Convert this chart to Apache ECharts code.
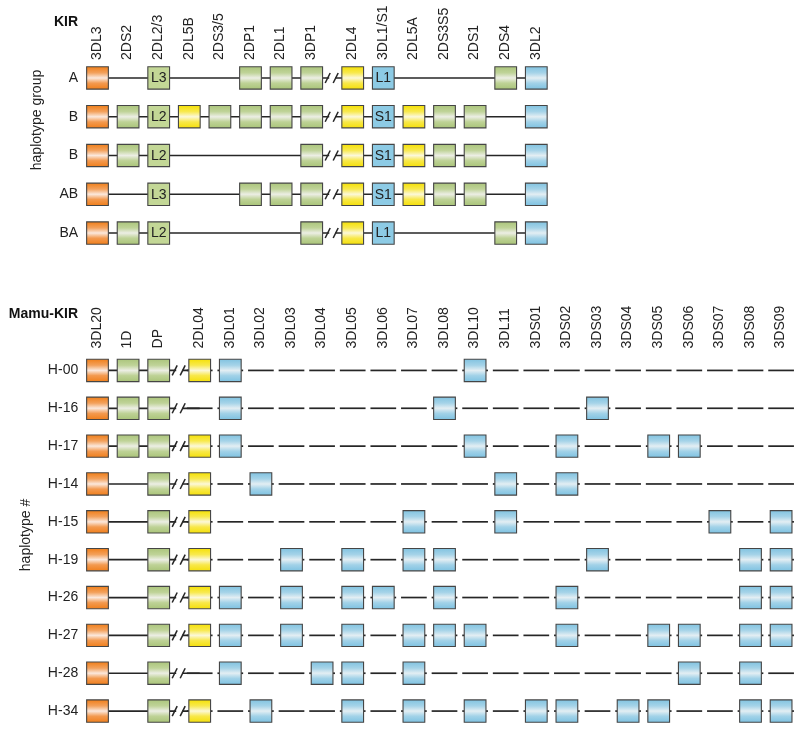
<!DOCTYPE html>
<html><head><meta charset="utf-8">
<script src="https://cdn.jsdelivr.net/npm/echarts@6/dist/echarts.min.js"></script>
<style>html,body{margin:0;padding:0;background:#fff}#c{width:800px;height:730px}</style>
</head><body><div id="c"></div>
<script>
// ---------- data ----------
const kirGenes = ['3DL3','2DS2','2DL2/3','2DL5B','2DS3/5','2DP1','2DL1','3DP1','2DL4','3DL1/S1','2DL5A','2DS3S5','2DS1','2DS4','3DL2'];
const kirGeneColors = ['orange','green','green','yellow','green','green','green','green','yellow','blue','yellow','green','green','green','blue'];
const kirBreakBefore = 8; // break mark between 3DP1 and 2DL4
const kirHaplotypes = ['A','B','B','AB','BA'];
// 1 = gene present, 0 = absent, text = present with allele label
const kirRowA  = [1,0,'L3',0,0,1,1,1,1,'L1',0,0,0,1,1];
const kirRowB1 = [1,1,'L2',1,1,1,1,1,1,'S1',1,1,1,0,1];
const kirRowB2 = [1,1,'L2',0,0,0,0,1,1,'S1',1,1,1,0,1];
const kirRowAB = [1,0,'L3',0,0,1,1,1,1,'S1',1,1,1,0,1];
const kirRowBA = [1,1,'L2',0,0,0,0,1,1,'L1',0,0,0,1,1];

const mamuGenes = ['3DL20','1D','DP','2DL04','3DL01','3DL02','3DL03','3DL04','3DL05','3DL06','3DL07','3DL08','3DL10','3DL11','3DS01','3DS02','3DS03','3DS04','3DS05','3DS06','3DS07','3DS08','3DS09'];
const mamuGeneColors = ['orange','green','green','yellow','blue','blue','blue','blue','blue','blue','blue','blue','blue','blue','blue','blue','blue','blue','blue','blue','blue','blue','blue'];
const mamuBreakBefore = 3; // break mark between DP and 2DL04
const mamuHaplotypes = ['H-00','H-16','H-17','H-14','H-15','H-19','H-26','H-27','H-28','H-34'];
const mamuH00 = ['3DL20','1D','DP','2DL04','3DL01','3DL10'];
const mamuH16 = ['3DL20','1D','DP','3DL01','3DL08','3DS03'];
const mamuH17 = ['3DL20','1D','DP','2DL04','3DL01','3DL10','3DS02','3DS05','3DS06'];
const mamuH14 = ['3DL20','DP','2DL04','3DL02','3DL11','3DS02'];
const mamuH15 = ['3DL20','DP','2DL04','3DL07','3DL11','3DS07','3DS09'];
const mamuH19 = ['3DL20','DP','2DL04','3DL03','3DL05','3DL07','3DL08','3DS03','3DS08','3DS09'];
const mamuH26 = ['3DL20','DP','2DL04','3DL01','3DL03','3DL05','3DL06','3DL08','3DS02','3DS08','3DS09'];
const mamuH27 = ['3DL20','DP','2DL04','3DL01','3DL03','3DL05','3DL07','3DL08','3DL10','3DS02','3DS05','3DS06','3DS08','3DS09'];
const mamuH28 = ['3DL20','DP','3DL01','3DL04','3DL05','3DL07','3DS06','3DS08'];
const mamuH34 = ['3DL20','DP','2DL04','3DL02','3DL05','3DL07','3DL10','3DS01','3DS02','3DS04','3DS05','3DS08','3DS09'];

// ---------- build ----------
const kirRows = [kirRowA, kirRowB1, kirRowB2, kirRowAB, kirRowBA];
const mamuRowsList = [mamuH00, mamuH16, mamuH17, mamuH14, mamuH15, mamuH19, mamuH26, mamuH27, mamuH28, mamuH34];
const mamuRows = mamuRowsList.map(list => mamuGenes.map(g => list.indexOf(g) >= 0 ? 1 : 0));

const BREAK_GAP = 0.34;
const FONT = '"Liberation Sans", Arial, Helvetica, sans-serif';
const INK = '#262626';
const PALETTE = {
  orange: ['#f07c14', '#f3a15c', '#fbe8dc', '#f39a50', '#f07d18'],
  green:  ['#aac47a', '#bfd398', '#eceee4', '#bed296', '#a8c377'],
  yellow: ['#f5e000', '#f8e94e', '#fcf8d8', '#f8e84a', '#f4df06'],
  blue:   ['#7fc2e0', '#a5d3e8', '#e3eef3', '#a2d2e8', '#7cc1e1']
};
const FLAT = { green: '#c3d796', blue: '#8dcbe5', orange: '#f2842a', yellow: '#f6e21c' };

function posOf(i, brk) { return i + (i >= brk ? BREAK_GAP : 0); }
function fillFor(key, flat) {
  if (flat) return FLAT[key];
  const c = PALETTE[key];
  return new echarts.graphic.LinearGradient(0, 0, 0, 1, [
    { offset: 0, color: c[0] }, { offset: 0.28, color: c[1] }, { offset: 0.5, color: c[2] },
    { offset: 0.72, color: c[3] }, { offset: 1, color: c[4] }
  ]);
}

function breakMark(bx, cy) {
  return [
    { type: 'rect', shape: { x: bx - 3, y: cy - 3, width: 6, height: 6 }, style: { fill: '#fff' } },
    { type: 'line', shape: { x1: bx - 7, y1: cy + 5, x2: bx - 2, y2: cy - 5 }, style: { stroke: INK, lineWidth: 1.5 } },
    { type: 'line', shape: { x1: bx + 1, y1: cy + 5, x2: bx + 6, y2: cy - 5 }, style: { stroke: INK, lineWidth: 1.5 } }
  ];
}

function makeRowRenderer(rows, colors, brk, dashed) {
  return function (params, api) {
    const r = api.value(1);
    const row = rows[params.dataIndex];
    const cw = api.size([1, 0])[0];
    const w = cw * 0.71, h = cw * 0.73;
    const children = [];
    const n = row.length;
    const p0 = api.coord([posOf(0, brk), r]);
    const cy = p0[1];
    if (!dashed) {
      const pe = api.coord([posOf(n - 1, brk), r]);
      children.push({ type: 'line', shape: { x1: p0[0], y1: cy, x2: pe[0], y2: cy }, style: { stroke: INK, lineWidth: 1.7 } });
    } else {
      const pb = api.coord([posOf(brk, brk), r]);
      children.push({ type: 'line', shape: { x1: p0[0], y1: cy, x2: pb[0], y2: cy }, style: { stroke: INK, lineWidth: 1.7 } });
      for (let i = brk; i < n; i++) {
        const pc = api.coord([posOf(i, brk), r]);
        children.push({ type: 'line', shape: { x1: pc[0] - cw * 0.42, y1: cy, x2: pc[0] + cw * 0.42, y2: cy }, style: { stroke: INK, lineWidth: 1.7 } });
      }
    }
    const bp = api.coord([brk - 0.5 + BREAK_GAP / 2, r]);
    children.push.apply(children, breakMark(bp[0], cy));
    for (let i = 0; i < n; i++) {
      const v = row[i];
      if (!v) continue;
      const pc = api.coord([posOf(i, brk), r]);
      const labeled = typeof v === 'string';
      children.push({ type: 'rect', shape: { x: pc[0] - w / 2, y: cy - h / 2, width: w, height: h },
        style: { fill: fillFor(colors[i], labeled), stroke: '#454545', lineWidth: 1.1 } });
      if (labeled) {
        children.push({ type: 'text', style: { text: v, x: pc[0], y: cy + 0.5, align: 'center', verticalAlign: 'middle',
          fontSize: 14, fontFamily: FONT, fill: '#222' } });
      }
    }
    return { type: 'group', children: children };
  };
}

function makeHeaderRenderer(names, brk, offset) {
  return function (params, api) {
    const i = api.value(0);
    const pc = api.coord([posOf(i, brk), 0]);
    return { type: 'text', x: pc[0] - 0.5, y: pc[1] - offset, rotation: Math.PI / 2,
      style: { text: names[i], x: 0, y: 0, align: 'left', verticalAlign: 'middle', fontSize: 14, fontFamily: FONT, fill: '#222' } };
  };
}

const xAxisCommon = { type: 'value', min: -0.5, max: 22.84, show: false };
const yAxisCommon = {
  type: 'category', inverse: true,
  axisLine: { show: false }, axisTick: { show: false }, splitLine: { show: false },
  axisLabel: { margin: 4, fontSize: 14, fontFamily: FONT, color: '#222' }
};

const chart = echarts.init(document.getElementById('c'), null, { renderer: 'canvas' });
chart.setOption({
  animation: false,
  backgroundColor: '#fff',
  grid: [
    { left: 82.2, width: 714.2, top: 58.6, height: 193.8 },
    { left: 82.2, width: 714.2, top: 351.5, height: 379.4 }
  ],
  xAxis: [Object.assign({ gridIndex: 0 }, xAxisCommon), Object.assign({ gridIndex: 1 }, xAxisCommon)],
  yAxis: [
    Object.assign({ gridIndex: 0, data: kirHaplotypes }, yAxisCommon),
    Object.assign({ gridIndex: 1, data: mamuHaplotypes }, yAxisCommon)
  ],
  graphic: [
    { type: 'text', x: 78, y: 22, style: { text: 'KIR', align: 'right', verticalAlign: 'middle', fontSize: 14, fontWeight: 'bold', fontFamily: FONT, fill: '#111' } },
    { type: 'text', x: 78, y: 314, style: { text: 'Mamu-KIR', align: 'right', verticalAlign: 'middle', fontSize: 14, fontWeight: 'bold', fontFamily: FONT, fill: '#111' } },
    { type: 'text', x: 37, y: 120, rotation: Math.PI / 2, style: { text: 'haplotype group', align: 'center', verticalAlign: 'middle', fontSize: 14, fontFamily: FONT, fill: '#222' } },
    { type: 'text', x: 26, y: 535, rotation: Math.PI / 2, style: { text: 'haplotype #', align: 'center', verticalAlign: 'middle', fontSize: 14, fontFamily: FONT, fill: '#222' } }
  ],
  series: [
    { type: 'custom', xAxisIndex: 0, yAxisIndex: 0, silent: true, clip: false,
      data: kirHaplotypes.map((h, i) => [0, i]),
      renderItem: makeRowRenderer(kirRows, kirGeneColors, kirBreakBefore, false) },
    { type: 'custom', xAxisIndex: 0, yAxisIndex: 0, silent: true, clip: false,
      data: kirGenes.map((g, i) => [i, 0]),
      renderItem: makeHeaderRenderer(kirGenes, kirBreakBefore, 18) },
    { type: 'custom', xAxisIndex: 1, yAxisIndex: 1, silent: true, clip: false,
      data: mamuHaplotypes.map((h, i) => [0, i]),
      renderItem: makeRowRenderer(mamuRows, mamuGeneColors, mamuBreakBefore, true) },
    { type: 'custom', xAxisIndex: 1, yAxisIndex: 1, silent: true, clip: false,
      data: mamuGenes.map((g, i) => [i, 0]),
      renderItem: makeHeaderRenderer(mamuGenes, mamuBreakBefore, 22) }
  ]
});
</script></body></html>
